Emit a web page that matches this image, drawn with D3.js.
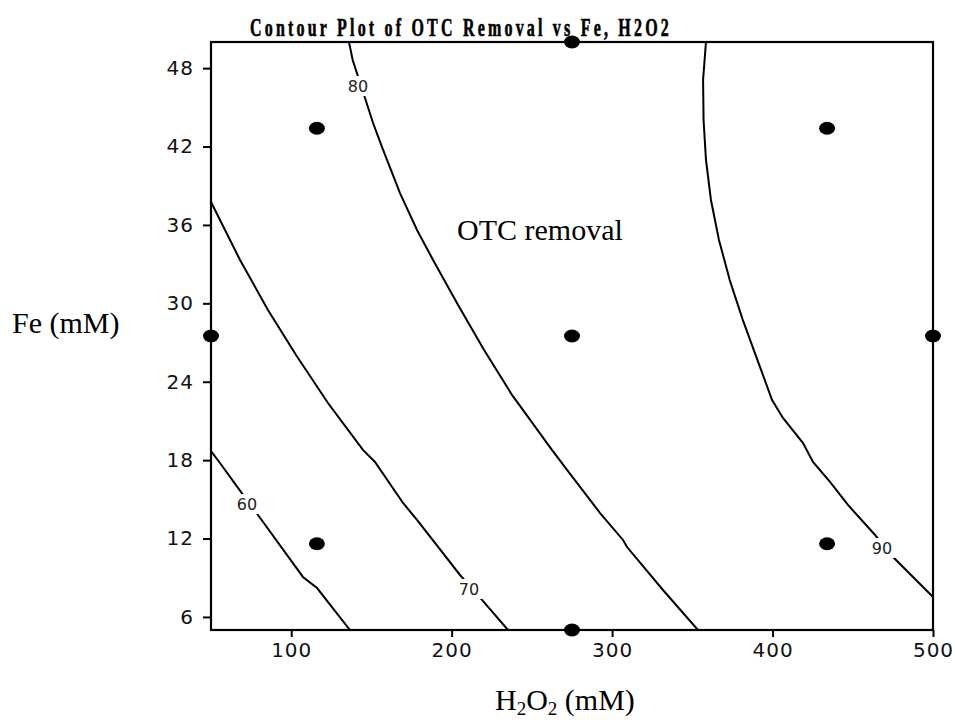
<!DOCTYPE html>
<html>
<head>
<meta charset="utf-8">
<script src="https://cdn.jsdelivr.net/npm/d3@7"></script>
<style>
  body { margin: 0; background: #fff; }
  svg { display: block; }
</style>
</head>
<body>
<svg id="chart" width="955" height="722"></svg>
<script>
// Axis ticks
const xTicks = [100, 200, 300, 400, 500];
const yTicks = [6, 12, 18, 24, 30, 36, 42, 48];

// Design points (H2O2 mM, Fe mM)
const designH2O2 = [116, 275, 434, 50, 275, 500, 116, 434, 275];
const designFe   = [43.4, 50, 43.4, 27.5, 27.5, 27.5, 11.6, 11.6, 5];

// Contour levels of OTC removal (%)
const levels = [60, 70, 80, 90];

// Contour paths as [H2O2, Fe] pairs
const contour60 = [[50, 18.70], [55.6, 17.78], [69.1, 15.49], [79.3, 13.80], [107.3, 9.06], [116.1, 8.21], [136.6, 5.0]];
const contour70 = [[50, 37.76], [68.1, 33.32], [85.5, 29.49], [103.0, 26.05], [122.9, 22.37], [144.7, 18.78], [152.2, 17.86],
                   [169.7, 14.72], [178.4, 13.42], [205.2, 9.21], [218.9, 7.30], [235.1, 5.0]];
const contour80 = [[136.0, 50], [138.3, 48.62], [146.0, 45.71], [151.0, 43.80], [156.6, 41.96], [167.8, 38.44], [178.4, 35.61],
                   [188.4, 33.32], [204.0, 29.87], [220.2, 26.43], [237.6, 22.99], [262.5, 18.78], [271.9, 17.25],
                   [292.5, 13.95], [306.8, 11.89], [309.3, 11.35], [331.7, 8.06], [353.5, 5.0]];
const contour90 = [[358.5, 50], [356.7, 47.09], [357.0, 44.03], [358.5, 40.97], [361.6, 37.91], [366.6, 34.85], [373.3, 31.79],
                   [381.5, 28.72], [390.6, 25.66], [399.7, 22.60], [406.5, 21.23], [419.0, 19.31], [425.2, 17.86],
                   [435.8, 16.33], [447.0, 14.57], [463.9, 12.27], [475.1, 10.59], [500, 7.53]];
const contourPaths = [contour60, contour70, contour80, contour90];

// Where each level label sits on its line
const labelH2O2 = [72.4, 210.8, 141.6, 468.2];
const labelFe   = [14.64, 8.14, 46.63, 11.28];

const svg = d3.select("#chart");
const plot = { left: 211, right: 933, top: 42, bottom: 630 };

const x = d3.scaleLinear().domain([50, 500]).range([plot.left, plot.right]);
const y = d3.scaleLinear().domain([5, 50]).range([plot.bottom, plot.top]);

svg.append("defs").append("clipPath").attr("id", "plotClip")
  .append("rect")
  .attr("x", plot.left).attr("y", plot.top)
  .attr("width", plot.right - plot.left).attr("height", plot.bottom - plot.top);

// Title: condensed, letter-spaced bold serif
svg.append("text")
  .attr("x", 250).attr("y", 36)
  .attr("textLength", 422).attr("lengthAdjust", "spacingAndGlyphs")
  .style("font-family", "'Liberation Serif', 'Times New Roman', serif")
  .style("font-weight", "bold")
  .style("font-size", "25px")
  .style("letter-spacing", "5px")
  .attr("stroke", "#000").attr("stroke-width", 0.6)
  .text("Contour Plot of OTC Removal vs Fe, H2O2");

// Axes
const tickFont = "'DejaVu Sans', sans-serif";
const xAxis = svg.append("g")
  .attr("transform", `translate(0,${plot.bottom})`)
  .call(d3.axisBottom(x).tickValues(xTicks).tickSize(7).tickPadding(6).tickFormat(d3.format("d")));
const yAxis = svg.append("g")
  .attr("transform", `translate(${plot.left},0)`)
  .call(d3.axisLeft(y).tickValues(yTicks).tickSize(8).tickPadding(9).tickFormat(d3.format("d")));
[xAxis, yAxis].forEach(g => {
  g.select(".domain").remove();
  g.selectAll(".tick line").attr("stroke", "#000").attr("stroke-width", 2);
  g.selectAll(".tick text")
    .style("font-family", tickFont).style("font-size", "20px")
    .style("letter-spacing", "1px").attr("fill", "#111");
});

// Contour lines
const lineGen = d3.line().x(d => x(d[0])).y(d => y(d[1]));
const lines = svg.append("g").attr("clip-path", "url(#plotClip)");
lines.selectAll("path")
  .data(contourPaths)
  .join("path")
  .attr("d", lineGen)
  .attr("fill", "none")
  .attr("stroke", "#000")
  .attr("stroke-width", 2);

// Level labels with a white knockout behind them
const labels = svg.append("g");
levels.forEach((lv, i) => {
  const g = labels.append("g").attr("transform", `translate(${x(labelH2O2[i])},${y(labelFe[i])})`);
  g.append("rect").attr("x", -13).attr("y", -10).attr("width", 26).attr("height", 20).attr("fill", "#fff");
  g.append("text")
    .attr("text-anchor", "middle").attr("dy", "0.36em")
    .style("font-family", tickFont).style("font-size", "16px")
    .attr("fill", "#222")
    .text(lv);
});

// Frame
svg.append("rect")
  .attr("x", plot.left).attr("y", plot.top)
  .attr("width", plot.right - plot.left).attr("height", plot.bottom - plot.top)
  .attr("fill", "none").attr("stroke", "#000").attr("stroke-width", 2.2);

// Design points
svg.append("g").selectAll("ellipse")
  .data(designH2O2.map((h, i) => [h, designFe[i]]))
  .join("ellipse")
  .attr("cx", d => x(d[0])).attr("cy", d => y(d[1]))
  .attr("rx", 8).attr("ry", 6.5)
  .attr("fill", "#000");

// Annotation and axis titles
const serif = "'Liberation Serif', 'Times New Roman', serif";
svg.append("text")
  .attr("x", 457).attr("y", 240)
  .style("font-family", serif).style("font-size", "30px")
  .text("OTC removal");

svg.append("text")
  .attr("x", 12).attr("y", 333)
  .style("font-family", serif).style("font-size", "30px")
  .text("Fe (mM)");

const xt = svg.append("text")
  .attr("x", 495).attr("y", 710)
  .style("font-family", serif).style("font-size", "30px");
xt.append("tspan").text("H");
xt.append("tspan").attr("dy", 5).style("font-size", "19px").text("2");
xt.append("tspan").attr("dy", -5).text("O");
xt.append("tspan").attr("dy", 5).style("font-size", "19px").text("2");
xt.append("tspan").attr("dy", -5).text(" (mM)");
</script>
</body>
</html>
